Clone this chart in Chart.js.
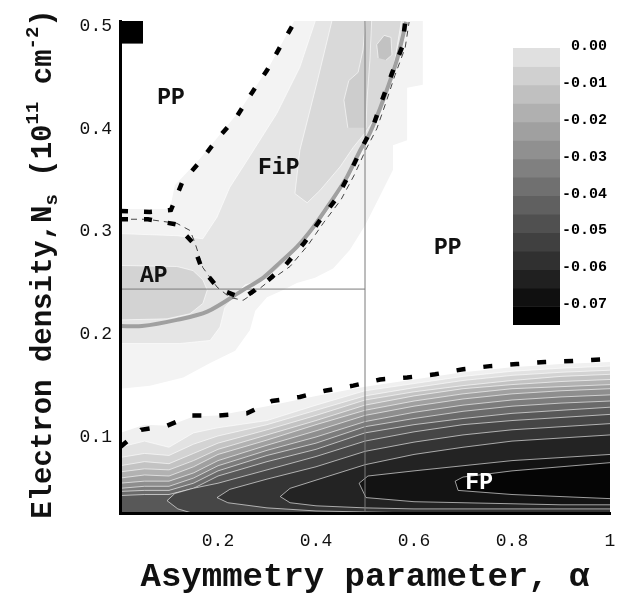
<!DOCTYPE html>
<html>
<head>
<meta charset="utf-8">
<script src="https://cdn.jsdelivr.net/npm/chart.js@4.4.0/dist/chart.umd.min.js"></script>
<style>
  body { margin: 0; background: #fff; }
  #wrap { position: relative; width: 629px; height: 599px; }
  #main { position: absolute; left: 0; top: 0; }
  #legend { position: absolute; left: 490px; top: 20px; }
</style>
</head>
<body>
<div id="wrap">
  <canvas id="main" width="629" height="599"></canvas>
  <canvas id="legend" width="139" height="320"></canvas>
</div>
<script>
// Phase diagram: energy contours over (alpha, N_s)

const FONT = "'Liberation Mono', 'Courier New', monospace";

// axes
const alphaTicks = [0.2, 0.4, 0.6, 0.8, 1];
const nsTicks = [0.1, 0.2, 0.3, 0.4, 0.5];

// FP region: contour levels N_s(alpha), sampled at these alphas
const levelAlpha = [0, 0.05, 0.1, 0.15, 0.2, 0.3, 0.4, 0.5, 0.6, 0.7, 0.8, 0.9, 1];
const fpLevel1  = [0.104, 0.112, 0.111, 0.120, 0.121, 0.130, 0.140, 0.149, 0.156, 0.163, 0.168, 0.171, 0.173];
const fpLevel2  = [0.090, 0.096, 0.090, 0.104, 0.109, 0.116, 0.131, 0.145, 0.152, 0.159, 0.164, 0.167, 0.169];
const fpLevel3  = [0.080, 0.084, 0.082, 0.093, 0.101, 0.112, 0.126, 0.140, 0.148, 0.155, 0.160, 0.163, 0.165];
const fpLevel4  = [0.072, 0.076, 0.074, 0.084, 0.094, 0.107, 0.121, 0.136, 0.144, 0.150, 0.155, 0.159, 0.161];
const fpLevel5  = [0.066, 0.069, 0.068, 0.077, 0.088, 0.102, 0.116, 0.131, 0.140, 0.147, 0.151, 0.154, 0.156];
const fpLevel6  = [0.060, 0.063, 0.062, 0.071, 0.083, 0.097, 0.112, 0.126, 0.135, 0.142, 0.147, 0.149, 0.151];
const fpLevel7  = [0.055, 0.057, 0.057, 0.065, 0.077, 0.092, 0.106, 0.121, 0.130, 0.137, 0.142, 0.145, 0.147];
const fpLevel8  = [0.050, 0.052, 0.052, 0.060, 0.072, 0.087, 0.100, 0.115, 0.124, 0.131, 0.136, 0.139, 0.141];
const fpLevel9  = [0.047, 0.048, 0.048, 0.055, 0.067, 0.082, 0.094, 0.110, 0.118, 0.125, 0.130, 0.133, 0.135];
const fpLevel10 = [0.043, 0.044, 0.044, 0.050, 0.062, 0.076, 0.088, 0.104, 0.112, 0.118, 0.123, 0.126, 0.129];

// FP region: inner closed contours (tongues opening to alpha = 1), [alpha, N_s]
const fpCore1 = [[1, 0.026], [0.147, 0.026], [0.118, 0.030], [0.096, 0.038], [0.112, 0.045], [0.149, 0.050], [0.2, 0.055], [0.3, 0.068], [0.4, 0.081], [0.5, 0.096], [0.6, 0.105], [0.7, 0.112], [0.8, 0.116], [0.9, 0.119], [1, 0.122]];
const fpCore2 = [[1, 0.026], [0.612, 0.026], [0.5, 0.027], [0.4, 0.028], [0.3, 0.031], [0.22, 0.036], [0.198, 0.041], [0.224, 0.049], [0.3, 0.059], [0.4, 0.071], [0.5, 0.086], [0.6, 0.095], [0.7, 0.102], [0.8, 0.107], [0.9, 0.110], [1, 0.113]];
const fpCore3 = [[1, 0.030], [0.8, 0.030], [0.6, 0.030], [0.5, 0.031], [0.4, 0.033], [0.347, 0.036], [0.327, 0.042], [0.347, 0.050], [0.4, 0.058], [0.5, 0.073], [0.6, 0.083], [0.7, 0.090], [0.8, 0.096], [0.9, 0.099], [1, 0.102]];
const fpCore4 = [[1, 0.034], [0.9, 0.034], [0.8, 0.035], [0.7, 0.036], [0.6, 0.037], [0.502, 0.041], [0.488, 0.055], [0.506, 0.062], [0.6, 0.067], [0.7, 0.072], [0.8, 0.077], [0.9, 0.080], [1, 0.083]];
const fpCore5 = [[1, 0.040], [0.9, 0.042], [0.8, 0.044], [0.69, 0.048], [0.684, 0.057], [0.7, 0.061], [0.8, 0.067], [0.9, 0.071], [1, 0.075]];

// FiP / AP region contours, [alpha, N_s]
const fipOuter = [[0, 0.322], [0.102, 0.322], [0.112, 0.345], [0.163, 0.371], [0.245, 0.418], [0.306, 0.462], [0.361, 0.51], [0.618, 0.51], [0.618, 0.443], [0.586, 0.440], [0.586, 0.389], [0.557, 0.384], [0.557, 0.360], [0.531, 0.335], [0.5, 0.306], [0.469, 0.282], [0.435, 0.264], [0.398, 0.255], [0.361, 0.250], [0.333, 0.243], [0.3, 0.236], [0.276, 0.223], [0.265, 0.204], [0.235, 0.184], [0.184, 0.172], [0.129, 0.158], [0.061, 0.150], [0, 0.147]];
const fipMid = [[0, 0.298], [0.116, 0.296], [0.169, 0.293], [0.198, 0.314], [0.224, 0.343], [0.259, 0.369], [0.320, 0.415], [0.367, 0.460], [0.402, 0.51], [0.588, 0.51], [0.571, 0.467], [0.543, 0.428], [0.516, 0.396], [0.496, 0.379], [0.469, 0.353], [0.435, 0.328], [0.400, 0.304], [0.367, 0.285], [0.333, 0.268], [0.296, 0.253], [0.255, 0.248], [0.239, 0.240], [0.214, 0.226], [0.204, 0.207], [0.184, 0.194], [0.122, 0.191], [0, 0.191]];
const fipStrip = [[0.435, 0.51], [0.402, 0.445], [0.367, 0.379], [0.357, 0.337], [0.382, 0.328], [0.408, 0.340], [0.449, 0.363], [0.476, 0.382], [0.5, 0.396], [0.524, 0.413], [0.545, 0.438], [0.561, 0.467], [0.576, 0.51]];
const fipPatch = [[0.465, 0.401], [0.457, 0.428], [0.467, 0.447], [0.486, 0.455], [0.496, 0.477], [0.502, 0.51], [0.514, 0.51], [0.510, 0.467], [0.504, 0.428], [0.502, 0.401]];
const fipSpot = [[0.527, 0.469], [0.524, 0.482], [0.539, 0.491], [0.553, 0.489], [0.555, 0.472], [0.543, 0.467]];
const apCore = [[0, 0.267], [0.116, 0.266], [0.149, 0.262], [0.169, 0.253], [0.178, 0.243], [0.169, 0.230], [0.143, 0.220], [0.096, 0.215], [0, 0.214]];

// phase boundaries, [alpha, N_s]
const ppFipBoundary = [[0, 0.320], [0.061, 0.319], [0.104, 0.321], [0.127, 0.348], [0.163, 0.368], [0.2, 0.391], [0.237, 0.411], [0.269, 0.435], [0.3, 0.457], [0.327, 0.480], [0.355, 0.503]];
const apFipBoundary = [[0, 0.312], [0.057, 0.312], [0.114, 0.307], [0.147, 0.290], [0.167, 0.264], [0.202, 0.244], [0.251, 0.235], [0.296, 0.250], [0.339, 0.268], [0.376, 0.289], [0.408, 0.311], [0.443, 0.333], [0.469, 0.357], [0.494, 0.382], [0.516, 0.402], [0.535, 0.428], [0.555, 0.454], [0.576, 0.480], [0.582, 0.504]];
const apFipThin = [[0, 0.312], [0.055, 0.312], [0.116, 0.308], [0.143, 0.301], [0.153, 0.289], [0.169, 0.265], [0.198, 0.246], [0.224, 0.236], [0.251, 0.233], [0.273, 0.240], [0.302, 0.251], [0.347, 0.266], [0.384, 0.287], [0.416, 0.309], [0.451, 0.331], [0.478, 0.355], [0.502, 0.380], [0.524, 0.400], [0.543, 0.426], [0.561, 0.452], [0.582, 0.479], [0.590, 0.504]];
const fpBoundary = [[0, 0.090], [0.043, 0.107], [0.096, 0.111], [0.147, 0.121], [0.202, 0.121], [0.259, 0.123], [0.310, 0.135], [0.367, 0.139], [0.418, 0.145], [0.476, 0.150], [0.531, 0.156], [0.586, 0.158], [0.643, 0.161], [0.700, 0.166], [0.755, 0.169], [0.810, 0.171], [0.867, 0.173], [0.924, 0.174], [1, 0.176]];
const criticalCurve = [[0, 0.208], [0.045, 0.208], [0.116, 0.214], [0.178, 0.222], [0.251, 0.243], [0.292, 0.255], [0.327, 0.270], [0.361, 0.285], [0.394, 0.304], [0.429, 0.328], [0.463, 0.353], [0.490, 0.379], [0.510, 0.396], [0.537, 0.428], [0.565, 0.467], [0.584, 0.504]];

// guide lines and corner marker
const guideHAlpha = [0, 0.5];
const guideHNs = [0.244, 0.244];
const guideVAlpha = [0.5, 0.5];
const guideVNs = [0.026, 0.51];
const cornerBox = [[0, 0.483], [0.047, 0.483], [0.047, 0.51], [0, 0.51]];

// phase labels
const phaseNames = ['PP', 'FiP', 'AP', 'PP', 'FP'];
const phaseAlpha = [0.104, 0.324, 0.069, 0.669, 0.733];
const phaseNs = [0.430, 0.362, 0.257, 0.284, 0.055];

// colour bar
const barEdges = [0, -0.005, -0.01, -0.015, -0.02, -0.025, -0.03, -0.035, -0.04, -0.045, -0.05, -0.055, -0.06, -0.065, -0.07, -0.075];
const barTicks = [0, -0.01, -0.02, -0.03, -0.04, -0.05, -0.06, -0.07];

// styles
const bandColors = ['#f0f0f0', '#e2e2e2', '#d3d3d3', '#c3c3c3', '#b2b2b2', '#a0a0a0', '#8e8e8e', '#7c7c7c', '#6a6a6a', '#585858'];
const coreColors = ['#464646', '#343434', '#232323', '#131313', '#050505'];
const barColors = ['#e0e0e0', '#d0d0d0', '#c0c0c0', '#b0b0b0', '#a0a0a0', '#909090', '#808080', '#707070', '#606060', '#505050', '#404040', '#303030', '#202020', '#101010', '#000000'];
const CONTOUR = 'rgba(255,255,255,0.6)';

const pts = arr => arr.map(p => ({ x: p[0], y: p[1] }));
const zip = (xs, ys) => xs.map((x, i) => ({ x: x, y: ys[i] }));

function region(data, color, edge) {
    return { data: data, backgroundColor: color, fill: 'shape', borderColor: edge || 'rgba(0,0,0,0)', borderWidth: edge ? 1 : 0, tension: 0 };
}
function band(ys, color, edge) {
    return { data: zip(levelAlpha, ys), backgroundColor: color, fill: 'start', borderColor: edge || 'rgba(0,0,0,0)', borderWidth: edge ? 1 : 0, tension: 0 };
}
function stroke(data, color, width, dash, tension) {
    return { data: data, fill: false, borderColor: color, borderWidth: width, borderDash: dash || [], borderCapStyle: 'butt', tension: tension || 0 };
}

// datasets listed from bottom to top
const layers = [
    region(pts(fipOuter), '#f3f3f3'),
    region(pts(fipMid), '#e5e5e5', CONTOUR),
    region(pts(fipStrip), '#d9d9d9', CONTOUR),
    region(pts(fipPatch), '#cdcdcd', CONTOUR),
    region(pts(fipSpot), '#c2c2c2', CONTOUR),
    region(pts(apCore), '#d3d3d3', CONTOUR)
];
[fpLevel1, fpLevel2, fpLevel3, fpLevel4, fpLevel5, fpLevel6, fpLevel7, fpLevel8, fpLevel9, fpLevel10]
    .forEach((ys, i) => layers.push(band(ys, bandColors[i], i === 0 ? null : CONTOUR)));
[fpCore1, fpCore2, fpCore3, fpCore4, fpCore5]
    .forEach((c, i) => layers.push(region(pts(c), coreColors[i], CONTOUR)));
layers.push(stroke(zip(guideHAlpha, guideHNs), '#7a7a7a', 1));
layers.push(stroke(zip(guideVAlpha, guideVNs), '#7a7a7a', 1));
layers.push(stroke(pts(criticalCurve), '#a0a0a0', 4, null, 0.3));
layers.push(stroke(pts(apFipThin), '#444', 1, [6, 5]));
layers.push(stroke(pts(apFipBoundary), '#000', 4.5, [8, 16]));
layers.push(stroke(pts(ppFipBoundary), '#000', 4.5, [8, 16]));
layers.push(stroke(pts(fpBoundary), '#000', 4.5, [9, 18]));
layers.push(region(pts(cornerBox), '#000'));
layers.forEach((d, i) => { d.order = layers.length - i; });

// phase names written at their data positions
const phaseLabels = {
    id: 'phaseLabels',
    afterDatasetsDraw(chart) {
        const { ctx, scales: { x, y } } = chart;
        ctx.save();
        ctx.font = 'bold 23px ' + FONT;
        ctx.textAlign = 'center';
        ctx.textBaseline = 'middle';
        phaseNames.forEach((name, i) => {
            ctx.fillStyle = name === 'FP' ? '#fff' : '#111';
            ctx.fillText(name, x.getPixelForValue(phaseAlpha[i]), y.getPixelForValue(phaseNs[i]));
        });
        ctx.restore();
    }
};

// rotated y title with subscript and superscripts
const yTitle = {
    id: 'yTitle',
    afterDraw(chart) {
        const ctx = chart.ctx;
        const parts = [
            ['Electron density,N', 29, 0],
            ['s', 19, 6],
            [' (10', 29, 0],
            ['11', 19, -13],
            [' cm', 29, 0],
            ['-2', 19, -13],
            [')', 29, 0]
        ];
        ctx.save();
        ctx.fillStyle = '#111';
        ctx.textBaseline = 'alphabetic';
        let total = 0;
        parts.forEach(p => { ctx.font = 'bold ' + p[1] + 'px ' + FONT; total += ctx.measureText(p[0]).width; });
        ctx.translate(51, 264 + total / 2);
        ctx.rotate(-Math.PI / 2);
        let pos = 0;
        parts.forEach(p => {
            ctx.font = 'bold ' + p[1] + 'px ' + FONT;
            ctx.fillText(p[0], pos, p[2]);
            pos += ctx.measureText(p[0]).width;
        });
        ctx.restore();
    }
};

new Chart(document.getElementById('main'), {
    type: 'line',
    data: { datasets: layers },
    options: {
        responsive: false,
        animation: false,
        devicePixelRatio: 1,
        events: [],
        layout: { padding: { top: 21, right: 19, left: 0, bottom: 0 } },
        elements: { point: { radius: 0, hoverRadius: 0 } },
        plugins: { legend: { display: false }, tooltip: { enabled: false } },
        scales: {
            x: {
                type: 'linear', min: 0, max: 1,
                grid: { display: false },
                border: { display: true, color: '#000', width: 3, z: 1 },
                ticks: {
                    font: { family: FONT, size: 18 }, color: '#111', padding: 9, maxRotation: 0, autoSkip: false,
                    callback: v => (v === 1 ? '1' : v.toFixed(1))
                },
                afterBuildTicks: s => { s.ticks = alphaTicks.map(v => ({ value: v })); },
                afterFit: s => { s.height = 86; },
                title: {
                    display: true, text: 'Asymmetry parameter, α', color: '#111',
                    font: { family: FONT, size: 34, weight: 'bold' }, padding: { top: 0, bottom: 1 }
                }
            },
            y: {
                type: 'linear', min: 0.026, max: 0.505,
                grid: { display: false },
                border: { display: true, color: '#000', width: 3, z: 1 },
                ticks: {
                    font: { family: FONT, size: 18 }, color: '#111', padding: 0, autoSkip: false,
                    callback: v => v.toFixed(1)
                },
                afterBuildTicks: s => { s.ticks = nsTicks.map(v => ({ value: v })); },
                afterFit: s => { s.width = 120; }
            }
        }
    },
    plugins: [phaseLabels, yTitle]
});

// colour bar as a floating stacked bar
new Chart(document.getElementById('legend'), {
    type: 'bar',
    data: {
        labels: [''],
        datasets: barColors.map((c, i) => ({
            data: [[barEdges[i + 1], barEdges[i]]],
            backgroundColor: c, borderWidth: 0, grouped: false,
            barPercentage: 1, categoryPercentage: 1
        }))
    },
    options: {
        responsive: false,
        animation: false,
        devicePixelRatio: 1,
        events: [],
        layout: { padding: { left: 23, top: 28, right: 22, bottom: 15 } },
        plugins: { legend: { display: false }, tooltip: { enabled: false } },
        scales: {
            x: { display: false },
            y: {
                position: 'right', min: -0.075, max: 0,
                grid: { display: false },
                border: { display: false },
                ticks: {
                    font: { family: FONT, size: 15, weight: 'bold' }, color: '#000',
                    padding: 2, crossAlign: 'far', labelOffset: -2,
                    callback: v => v.toFixed(2)
                },
                afterBuildTicks: s => { s.ticks = barTicks.map(v => ({ value: v })); },
                afterFit: s => { s.width = 47; }
            }
        }
    }
});
</script>
</body>
</html>
